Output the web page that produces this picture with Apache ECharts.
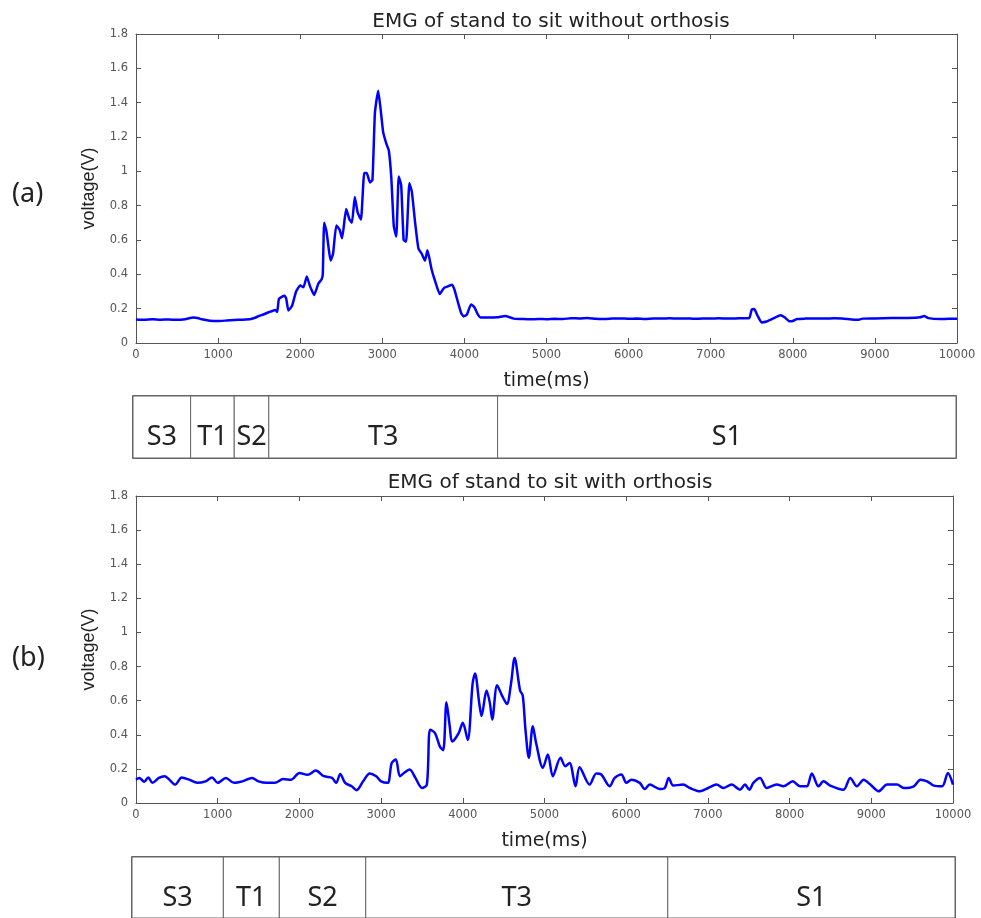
<!DOCTYPE html>
<html>
<head>
<meta charset="utf-8">
<script src="https://cdn.jsdelivr.net/npm/echarts@6/dist/echarts.min.js"></script>
<style>html,body{margin:0;padding:0;background:#fff}#c{width:981px;height:918px}</style>
</head>
<body>
<div id="c"></div>
<script>
// ---- data ----
var xTicks = [0,1000,2000,3000,4000,5000,6000,7000,8000,9000,10000];
var yTicks = [0,0.2,0.4,0.6,0.8,1,1.2,1.4,1.6,1.8];

var timeA = [0,100,200,300,400,500,600,700,750,800,900,1000,1100,1200,1300,1400,1450,1500,1550,1600,1650,1700,1720,1740,1780,1810,1830,1856,1900,1950,2000,2040,2080,2120,2170,2220,2260,2275,2292,2320,2350,2370,2400,2440,2480,2510,2560,2600,2630,2665,2700,2740,2780,2810,2850,2880,2910,2950,2980,3010,3050,3080,3110,3140,3170,3200,3230,3260,3290,3330,3360,3400,3440,3480,3520,3550,3600,3650,3700,3750,3800,3850,3880,3920,3960,3990,4030,4080,4120,4160,4200,4300,4400,4500,4550,4600,4700,4800,4900,5000,5100,5200,5300,5400,5500,5600,5700,5800,5900,6000,6100,6200,6300,6400,6500,6600,6700,6800,6900,7000,7100,7200,7300,7400,7470,7500,7530,7570,7620,7680,7750,7850,7900,7960,8000,8050,8150,8300,8400,8500,8600,8800,8850,9000,9200,9400,9550,9600,9650,9800,9900,10000];
var voltA = [0.137,0.135,0.138,0.136,0.137,0.135,0.139,0.148,0.146,0.138,0.130,0.128,0.131,0.134,0.136,0.140,0.147,0.158,0.166,0.176,0.185,0.192,0.180,0.255,0.270,0.275,0.258,0.190,0.215,0.300,0.335,0.325,0.388,0.330,0.280,0.345,0.370,0.400,0.700,0.650,0.540,0.480,0.520,0.685,0.660,0.610,0.780,0.720,0.700,0.850,0.760,0.720,0.990,0.990,0.935,0.950,1.340,1.470,1.360,1.230,1.160,1.120,0.960,0.680,0.620,0.970,0.920,0.600,0.590,0.930,0.880,0.700,0.550,0.520,0.480,0.540,0.430,0.350,0.285,0.320,0.330,0.340,0.310,0.240,0.175,0.155,0.165,0.225,0.210,0.170,0.148,0.148,0.150,0.158,0.150,0.142,0.140,0.138,0.140,0.139,0.141,0.140,0.144,0.143,0.146,0.141,0.140,0.142,0.143,0.141,0.142,0.140,0.143,0.142,0.144,0.142,0.143,0.141,0.142,0.142,0.144,0.142,0.143,0.144,0.145,0.195,0.198,0.160,0.120,0.125,0.140,0.162,0.150,0.126,0.128,0.140,0.142,0.143,0.142,0.144,0.143,0.135,0.142,0.143,0.145,0.146,0.150,0.157,0.145,0.140,0.141,0.141];

var timeB = [0,40,100,150,200,280,350,400,480,560,650,750,850,930,1000,1100,1200,1300,1420,1500,1600,1700,1800,1900,2000,2100,2200,2300,2400,2450,2500,2560,2640,2700,2780,2860,2940,3000,3080,3130,3180,3230,3280,3350,3420,3500,3560,3600,3660,3720,3760,3800,3840,3870,3950,4000,4060,4120,4150,4200,4230,4290,4330,4360,4420,4480,4540,4590,4634,4701,4734,4767,4808,4857,4898,4980,5041,5102,5196,5254,5307,5380,5429,5552,5634,5695,5798,5859,5941,6002,6063,6166,6227,6288,6411,6472,6521,6575,6697,6779,6902,7004,7106,7188,7290,7393,7454,7507,7556,7638,7720,7843,7924,8039,8129,8211,8272,8354,8415,8497,8660,8742,8824,8906,8988,9090,9193,9315,9397,9520,9601,9683,9765,9867,9937,10000];
var voltB = [0.137,0.147,0.125,0.150,0.118,0.147,0.157,0.141,0.108,0.150,0.137,0.118,0.127,0.150,0.118,0.147,0.118,0.127,0.147,0.127,0.118,0.118,0.140,0.137,0.176,0.165,0.190,0.157,0.147,0.118,0.170,0.118,0.098,0.075,0.127,0.173,0.157,0.127,0.118,0.235,0.255,0.157,0.176,0.196,0.147,0.088,0.108,0.430,0.410,0.330,0.310,0.590,0.450,0.360,0.410,0.470,0.370,0.700,0.760,0.590,0.510,0.660,0.590,0.490,0.690,0.630,0.580,0.700,0.850,0.660,0.630,0.430,0.265,0.450,0.350,0.206,0.284,0.157,0.265,0.216,0.235,0.098,0.210,0.108,0.173,0.167,0.098,0.147,0.167,0.118,0.137,0.118,0.082,0.108,0.082,0.088,0.147,0.102,0.108,0.088,0.069,0.088,0.108,0.088,0.108,0.078,0.108,0.078,0.118,0.147,0.088,0.108,0.098,0.127,0.098,0.098,0.173,0.098,0.127,0.102,0.078,0.147,0.098,0.137,0.108,0.069,0.108,0.108,0.088,0.098,0.137,0.127,0.102,0.098,0.176,0.108];

var phaseNames = ['S3','T1','S2','T3','S1'];
var phaseEndA = [700,1230,1650,4430,10000];
var phaseEndB = [1110,1790,2840,6510,10000];

var titleA = 'EMG of stand to sit without orthosis';
var titleB = 'EMG of stand to sit with orthosis';

// ---- build ----
function pairs(t, v){ return t.map(function(x,i){ return [x, v[i]]; }); }
function phases(ends){
  var out = [], s = 0;
  for (var i=0;i<ends.length;i++){ out.push([s, ends[i]]); s = ends[i]; }
  return out;
}
var tickFont = {fontFamily:'DejaVu Sans', fontSize:11.5, color:'#555'};
var lineCol = '#555';

function plotAxesX(gi){
  return [
    {type:'value', gridIndex:gi, position:'bottom', min:0, max:10000, interval:1000,
     axisLine:{show:true, onZero:false, lineStyle:{color:lineCol}}, axisTick:{inside:true, length:5, lineStyle:{color:lineCol}},
     axisLabel:Object.assign({margin:6, formatter:function(v){ return String(v); }}, tickFont), splitLine:{show:false},
     name:'time(ms)', nameLocation:'middle', nameGap:29,
     nameTextStyle:{fontFamily:'DejaVu Sans', fontSize:19, color:'#222'}},
    {type:'value', gridIndex:gi, position:'top', min:0, max:10000, interval:1000,
     axisLine:{show:true, onZero:false, lineStyle:{color:lineCol}}, axisTick:{inside:true, length:5, lineStyle:{color:lineCol}},
     axisLabel:{show:false}, splitLine:{show:false}}
  ];
}
function plotAxesY(gi){
  return [
    {type:'value', gridIndex:gi, position:'left', min:0, max:1.8, interval:0.2,
     axisLine:{show:true, onZero:false, lineStyle:{color:lineCol}}, axisTick:{inside:true, length:5, lineStyle:{color:lineCol}},
     axisLabel:Object.assign({margin:8, formatter:function(v){ return String(Math.round(v*10)/10); }}, tickFont), splitLine:{show:false},
     name:'voltage(V)', nameLocation:'middle', nameGap:38, nameRotate:90,
     nameTextStyle:{fontFamily:'Liberation Sans', fontSize:18, color:'#222'}},
    {type:'value', gridIndex:gi, position:'right', min:0, max:1.8, interval:0.2,
     axisLine:{show:true, onZero:false, lineStyle:{color:lineCol}}, axisTick:{inside:true, length:5, lineStyle:{color:lineCol}},
     axisLabel:{show:false}, splitLine:{show:false}}
  ];
}
function phaseX(gi){ return {type:'value', gridIndex:gi, min:0, max:10000, show:false}; }
function phaseY(gi){ return {type:'value', gridIndex:gi, min:0, max:1, show:false}; }

function phaseRender(params, api){
  var a = api.coord([api.value(0), 1]);
  var b = api.coord([api.value(1), 0]);
  var w = b[0]-a[0], h = b[1]-a[1];
  return {type:'group', children:[
    {type:'rect', shape:{x:a[0], y:a[1], width:w, height:h},
     style:{fill:'#fff', stroke:'#666', lineWidth:1}},
    {type:'text', style:{text:phaseNames[params.dataIndex], x:a[0]+w/2, y:a[1]+41,
      textAlign:'center', textVerticalAlign:'middle',
      font:'27px "Liberation Sans Narrow", "Noto Sans", sans-serif', fill:'#222'}}
  ]};
}

var chart = echarts.init(document.getElementById('c'), null, {renderer:'canvas'});
var xs = plotAxesX(0).concat([phaseX(1)]).concat(plotAxesX(2)).concat([phaseX(3)]);
var ys = plotAxesY(0).concat([phaseY(1)]).concat(plotAxesY(2)).concat([phaseY(3)]);

var option = {
  backgroundColor:'#fff',
  animation:false,
  title:[
    {text:titleA, left:546, top:7, textAlign:'center',
     textStyle:{fontFamily:'DejaVu Sans', fontSize:20, fontWeight:'normal', color:'#222'}},
    {text:titleB, left:545, top:468, textAlign:'center',
     textStyle:{fontFamily:'DejaVu Sans', fontSize:20, fontWeight:'normal', color:'#222'}}
  ],
  grid:[
    {left:136, top:34, width:821, height:309, show:false},
    {left:133, top:396, width:823, height:62, show:true, borderColor:'#333', borderWidth:1.5, backgroundColor:'transparent'},
    {left:136, top:496, width:817, height:307, show:false},
    {left:132, top:857, width:823, height:64, show:true, borderColor:'#333', borderWidth:1.5, backgroundColor:'transparent'}
  ],
  xAxis: xs,
  yAxis: ys,
  graphic:[
    {type:'text', left:12, top:181, style:{text:'(a)', font:'27px "Liberation Sans Narrow", "Noto Sans", sans-serif', fill:'#222'}},
    {type:'text', left:12, top:645, style:{text:'(b)', font:'27px "Liberation Sans Narrow", "Noto Sans", sans-serif', fill:'#222'}}
  ],
  series:[
    {type:'line', xAxisIndex:0, yAxisIndex:0, data:pairs(timeA, voltA), showSymbol:false,
     lineStyle:{color:'#0000ff', width:2.5}, smooth:0.15, z:3},
    {type:'custom', xAxisIndex:2, yAxisIndex:2, data:phases(phaseEndA), renderItem:phaseRender,
     encode:{x:[0,1]}, z:1},
    {type:'line', xAxisIndex:3, yAxisIndex:3, data:pairs(timeB, voltB), showSymbol:false,
     lineStyle:{color:'#0000ff', width:2.5}, smooth:0.3, z:3},
    {type:'custom', xAxisIndex:5, yAxisIndex:5, data:phases(phaseEndB), renderItem:phaseRender,
     encode:{x:[0,1]}, z:1}
  ]
};
chart.setOption(option);
</script>
</body>
</html>
